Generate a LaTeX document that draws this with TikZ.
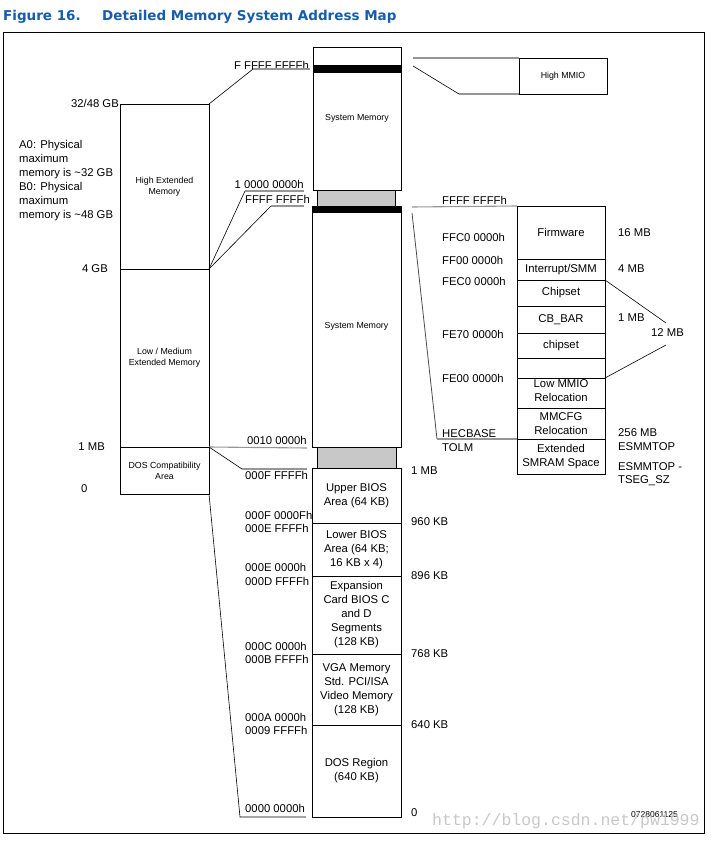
\documentclass[tikz,border=0pt]{standalone}
\usepackage{fontspec}
\setmainfont{Liberation Sans}
\newfontfamily\titlefont{DejaVu Sans}
\newfontfamily\wmfont{Liberation Mono}
\definecolor{titleblue}{RGB}{22,92,170}
\definecolor{shade}{RGB}{200,200,200}
\definecolor{lgray}{RGB}{150,150,150}
\begin{document}
\begin{tikzpicture}[x=1pt,y=-1pt,
  box/.style={draw, line width=0.8pt, inner sep=0pt, outer sep=0pt, anchor=north west, align=center, font=\fontsize{11.3}{14}\selectfont},
  sbox/.style={box, font=\fontsize{8.8}{11}\selectfont},
  bar/.style={fill=black, inner sep=0pt, outer sep=0pt, anchor=north west},
  graybar/.style={fill=shade, draw=black, line width=0.5pt, inner sep=0pt, outer sep=0pt, anchor=north west},
  lbl/.style={inner sep=0pt, font=\fontsize{11.3}{14}\selectfont},
  gline/.style={draw=lgray, line width=1.1pt},
  dline/.style={draw=black, line width=0.6pt}
]
\useasboundingbox (0,0) rectangle (714,842);
% title
\node[anchor=west, inner sep=0pt, text=titleblue, font=\titlefont\bfseries\fontsize{13.5}{16}\selectfont] (t1) at (3,17) {Figure 16.};
\node[anchor=west, inner sep=0pt, text=titleblue, font=\titlefont\bfseries\fontsize{13.5}{16}\selectfont] (t2) at (102,17) {Detailed Memory System Address Map};
\draw[line width=1pt] (3,33) rectangle (704,833);

% left column
\node[sbox, minimum width=89, minimum height=165] (hext) at (120,104) {High Extended\\Memory};
\node[sbox, minimum width=89, minimum height=178] (lowmed) at (120,269) {Low / Medium\\Extended Memory};
\node[sbox, minimum width=89, minimum height=47] (dos) at (120,447) {DOS Compatibility\\Area};

\node[lbl, anchor=mid east] (l3248) at (119,105) {32/48 GB};
\node[lbl, anchor=mid east] (l4gb) at (108,270) {4 GB};
\node[lbl, anchor=mid east] (l1mb) at (105,448) {1 MB};
\node[lbl, anchor=mid west] (l0) at (81,490) {0};
\node[lbl, anchor=north west, align=left] (note) at (19,140.5) {A0: Physical\\maximum\\memory is \textasciitilde32 GB\\B0: Physical\\maximum\\memory is \textasciitilde48 GB};

% center column
\node[sbox, minimum width=88, minimum height=143] (sysA) at (313,47) {System Memory};
\node[bar, minimum width=88, minimum height=8] (barA) at (313,65) {};
\node[graybar, minimum width=78, minimum height=16] (grayA) at (317,190) {};
\node[sbox, minimum width=89, minimum height=241] (sysB) at (312,206) {System Memory};
\node[bar, minimum width=89, minimum height=7] (barB) at (312,206) {};
\node[graybar, minimum width=79, minimum height=21] (grayB) at (317,447) {};

\node[box, minimum width=89, minimum height=55] (ubios) at (312,468) {Upper BIOS\\Area (64 KB)};
\node[box, minimum width=89, minimum height=53] (lbios) at (312,523) {Lower BIOS\\Area (64 KB;\\16 KB x 4)};
\node[box, minimum width=89, minimum height=78] (expn) at (312,576) {Expansion\\Card BIOS C\\and D\\Segments\\(128 KB)};
\node[box, minimum width=89, minimum height=71] (vga) at (312,654) {VGA Memory\\Std. PCI/ISA\\Video Memory\\(128 KB)};
\node[box, minimum width=89, minimum height=92] (dosr) at (312,725) {DOS Region\\(640 KB)};

% center address labels
\node[lbl, anchor=mid east] (aF) at (309,67) {F FFFF FFFFh};
\node[lbl, anchor=mid east] (a1G) at (304,186) {1 0000 0000h};
\node[lbl, anchor=mid east] (a4G) at (310,201) {FFFF FFFFh};
\node[lbl, anchor=mid east] (a1M) at (307,442) {0010 0000h};
\node[lbl, anchor=mid west] (aFF) at (245,477) {000F FFFFh};
\node[lbl, anchor=mid west] (aF0) at (245,517) {000F 0000Fh};
\node[lbl, anchor=mid west] (aEF) at (245,530) {000E FFFFh};
\node[lbl, anchor=mid west] (aE0) at (245,569) {000E 0000h};
\node[lbl, anchor=mid west] (aDF) at (245,583) {000D FFFFh};
\node[lbl, anchor=mid west] (aC0) at (245,648) {000C 0000h};
\node[lbl, anchor=mid west] (aBF) at (245,661) {000B FFFFh};
\node[lbl, anchor=mid west] (aA0) at (245,719) {000A 0000h};
\node[lbl, anchor=mid west] (a9F) at (245,732) {0009 FFFFh};
\node[lbl, anchor=mid west] (a00) at (245,810) {0000 0000h};

\node[lbl, anchor=mid west] (k1mb) at (411,472) {1 MB};
\node[lbl, anchor=mid west] (k960) at (411,523) {960 KB};
\node[lbl, anchor=mid west] (k896) at (411,577) {896 KB};
\node[lbl, anchor=mid west] (k768) at (411,655) {768 KB};
\node[lbl, anchor=mid west] (k640) at (411,726) {640 KB};
\node[lbl, anchor=mid west] (k0) at (411,814) {0};

% high MMIO
\node[sbox, minimum width=88, minimum height=36] (hmmio) at (519,58) {High MMIO};

% right stack
\node[box, minimum width=88, minimum height=53] (fw) at (517,206) {Firmware};
\node[box, minimum width=88, minimum height=21] (ism) at (517,259) {Interrupt/SMM};
\node[box, minimum width=88, minimum height=26] (chip1) at (517,280) {Chipset};
\node[box, minimum width=88, minimum height=27] (cbbar) at (517,306) {CB\_BAR};
\node[box, minimum width=88, minimum height=25] (chip2) at (517,333) {chipset};
\node[box, minimum width=88, minimum height=20] (empt) at (517,358) {};
\node[box, minimum width=88, minimum height=30] (lmmio) at (517,378) {};
\node[lbl, align=center] (lmmiot) at (561,390.5) {Low MMIO\\Relocation};
\node[box, minimum width=88, minimum height=31] (mmcfg) at (517,408) {MMCFG\\Relocation};
\node[box, minimum width=88, minimum height=35] (esm) at (517,439) {Extended\\SMRAM Space};

\node[lbl, anchor=mid west] (rF) at (442,202) {FFFF FFFFh};
\node[lbl, anchor=mid west] (rFFC) at (442,239) {FFC0 0000h};
\node[lbl, anchor=mid west] (rFF0) at (442,262) {FF00 0000h};
\node[lbl, anchor=mid west] (rFEC) at (442,283) {FEC0 0000h};
\node[lbl, anchor=mid west] (rFE7) at (442,336) {FE70 0000h};
\node[lbl, anchor=mid west] (rFE0) at (442,380) {FE00 0000h};
\node[lbl, anchor=mid west] (rHEC) at (442,435) {HECBASE};
\node[lbl, anchor=mid west] (rTOLM) at (442,449) {TOLM};

\node[lbl, anchor=mid west] (s16) at (618,234) {16 MB};
\node[lbl, anchor=mid west] (s4) at (618,270) {4 MB};
\node[lbl, anchor=mid west] (s1) at (618,319) {1 MB};
\node[lbl, anchor=mid west] (s12) at (651,334) {12 MB};
\node[lbl, anchor=mid west] (s256) at (618,434) {256 MB};
\node[lbl, anchor=mid west] (sESM) at (618,448) {ESMMTOP};
\node[lbl, anchor=mid west] (sESM2) at (618,468) {ESMMTOP -};
\node[lbl, anchor=mid west] (sTSEG) at (618,481) {TSEG\_SZ};

% connector coordinates
\coordinate (c1) at (253,69);
\coordinate (c1e) at (310,69);
\coordinate (c2) at (245,191);
\coordinate (c2e) at (304,191);
\coordinate (c3) at (271,206);
\coordinate (c3e) at (304,206);
\coordinate (c4e) at (307,448);
\coordinate (c5) at (242,469);
\coordinate (c5e) at (307,469);
\coordinate (c6) at (240,817);
\coordinate (c6e) at (306,817);
\coordinate (h1) at (413,58);
\coordinate (h2) at (413,66);
\coordinate (h3) at (459,94);
\coordinate (r1) at (412,207);
\coordinate (r2) at (412,213);
\coordinate (r3) at (437,439);
\coordinate (m1) at (666,323);
\coordinate (m2) at (666,345);

% connectors
\draw[dline] (hext.north east) -- (c1);
\draw[gline] (c1) -- (c1e);
\draw[dline] (hext.south east) -- (c2);
\draw[gline] (c2) -- (c2e);
\draw[dline] (hext.south east) -- (c3);
\draw[gline] (c3) -- (c3e);
\draw[gline] (dos.north east) -- (c4e);
\draw[dline] (dos.north east) -- (c5);
\draw[gline] (c5) -- (c5e);
\draw[dline] (dos.south east) -- (c6) -- (c6e);
\draw[gline] (h1) -- (hmmio.north west);
\draw[dline] (h2) -- (h3);
\draw[gline] (h3) -- (hmmio.south west);
\draw[gline] (r1) -- (fw.north west);
\draw[draw=black!70, line width=0.8pt] (r2) -- (r3);
\draw[gline] (r3) -- (esm.north west);
\draw[dline] (ism.south east) -- (m1);
\draw[dline] (m2) -- (lmmio.north east);

% footer
\node[inner sep=0pt, anchor=mid west, font=\fontsize{8.5}{10}\selectfont] (code) at (631,815) {0728061125};
\node[inner sep=0pt, anchor=mid west, text=shade, font=\wmfont\fontsize{16.5}{18}\selectfont] (wm) at (432,823) {http://blog.csdn.net/pw1999};
\end{tikzpicture}
\end{document}
